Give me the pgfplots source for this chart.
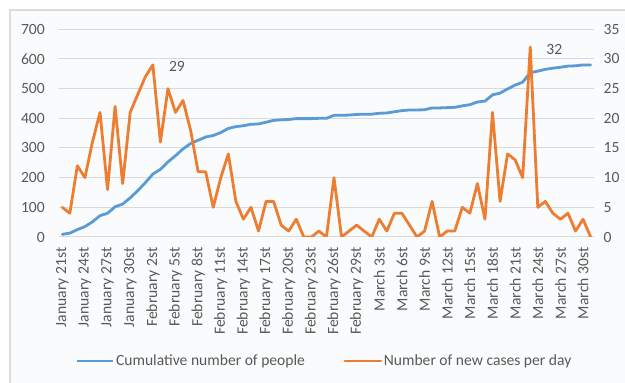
\documentclass[border=0pt]{standalone}
\usepackage{pgfplots}
\pgfplotsset{compat=1.18}
\usepackage{pgfplotstable}
\usepackage{fontspec}
\setmainfont{Carlito}

\definecolor{cumblue}{RGB}{91,155,213}
\definecolor{neworange}{RGB}{237,125,49}
\definecolor{txtgray}{RGB}{89,89,89}
\definecolor{gridgray}{RGB}{217,217,217}
\definecolor{panel}{RGB}{250,251,252}
\definecolor{framegray}{RGB}{220,220,220}

% day index (0 = January 21st), cumulative cases, new cases that day
\pgfplotstableread{
day cum new
0 9 5
1 13 4
2 25 12
3 35 10
4 51 16
5 72 21
6 80 8
7 102 22
8 111 9
9 132 21
10 156 24
11 183 27
12 212 29
13 228 16
14 253 25
15 274 21
16 297 23
17 315 18
18 326 11
19 337 11
20 342 5
21 352 10
22 366 14
23 372 6
24 375 3
25 380 5
26 381 1
27 387 6
28 393 6
29 395 2
30 396 1
31 399 3
32 399 0
33 399 0
34 400 1
35 400 0
36 410 10
37 410 0
38 411 1
39 413 2
40 414 1
41 414 0
42 417 3
43 418 1
44 422 4
45 426 4
46 428 2
47 428 0
48 429 1
49 435 6
50 435 0
51 436 1
52 437 1
53 442 5
54 446 4
55 455 9
56 458 3
57 479 21
58 485 6
59 499 14
60 512 13
61 522 10
62 554 32
63 559 5
64 565 6
65 569 4
66 572 3
67 576 4
68 577 1
69 580 3
70 580 0
}\casestable

\tikzset{basefont/.style={font=\fontsize{15.6}{18.5}\selectfont, text=txtgray}}

\pgfplotsset{
  common/.style={
    at={(58.5pt,146pt)}, anchor=south west,
    width=535.9pt, height=207.7pt, scale only axis,
    xmin=-0.5, xmax=70.5,
    axis line style={draw=none},
    major tick length=0pt,
    every tick label/.append style={basefont, inner sep=0pt},
    /pgf/number format/assume math mode=true,
  },
}

\begin{document}
\fontsize{15.6}{18.5}\selectfont
\begin{tikzpicture}[x=1pt,y=1pt]
\useasboundingbox (0,0) rectangle (625,383);
\fill[white] (0,0) rectangle (625,383);
\fill[panel] (10,-10) rectangle (640,373);
\draw[framegray, line width=1.5pt] (10,-10) -- (10,373) -- (640,373);

% cumulative cases, left scale
\begin{axis}[
  common,
  ymin=0, ymax=700, ytick={0,100,...,700},
  ymajorgrids, major grid style={draw=gridgray, line width=1pt},
  yticklabel shift=13.5pt,
  xtick={0,3,...,69},
  xticklabels={January 21st, January 24st, January 27st, January 30st,
    February 2st, February 5st, February 8st, February 11st, February 14st,
    February 17st, February 20st, February 23st, February 26st, February 29st,
    March 3st, March 6st, March 9st, March 12st, March 15st, March 18st,
    March 21st, March 24st, March 27st, March 30st},
  xticklabel style={rotate=90, anchor=east},
  xticklabel shift=10.5pt,
]
\addplot[cumblue, line width=2.8pt, line join=round, line cap=round]
  table[x=day, y=cum] {\casestable};
\end{axis}

% new cases per day, right scale
\begin{axis}[
  common,
  ymin=0, ymax=35, ytick={0,5,...,35},
  yticklabel pos=right,
  yticklabel style={anchor=west},
  yticklabel shift=9pt,
  xtick=\empty,
  legend columns=2,
  legend style={
    at={(axis description cs:0.496,-0.597)}, anchor=center,
    draw=none, fill=none, inner sep=0pt,
    nodes={inner sep=1.5pt, basefont},
    /tikz/every even column/.append style={column sep=37pt},
  },
  legend image code/.code={\draw[#1, line width=2.8pt] (0pt,0pt) -- (36pt,0pt);},
]
\addlegendimage{cumblue}
\addlegendentry{Cumulative number of people}
\addplot[neworange, line width=2.8pt, line join=round, line cap=round]
  table[x=day, y=new] {\casestable};
\addlegendentry{Number of new cases per day}
\node[basefont, anchor=west, inner sep=0pt, xshift=16pt, yshift=-1.5pt] at (axis cs:12,29) {29};
\node[basefont, anchor=west, inner sep=0pt, xshift=16pt, yshift=-2pt] at (axis cs:62,32) {32};
\end{axis}
\end{tikzpicture}
\end{document}
